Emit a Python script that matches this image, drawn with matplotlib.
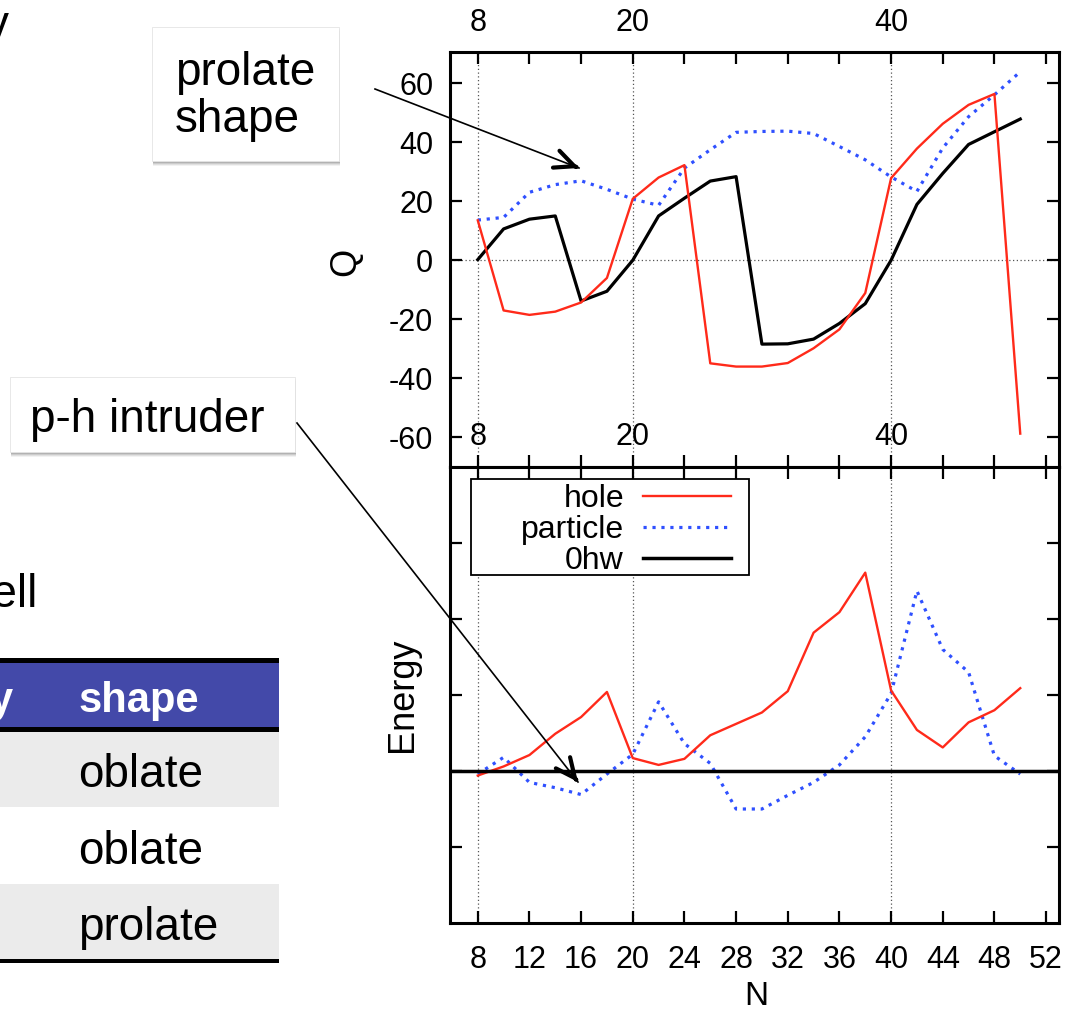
import numpy as np
import matplotlib.pyplot as plt
from matplotlib.patches import Rectangle, FancyArrowPatch
from matplotlib.lines import Line2D

plt.rcParams['font.family'] = ['Liberation Sans', 'DejaVu Sans']
plt.rcParams['axes.unicode_minus'] = False

W, H = 1078, 1018

# neutron number
N = np.arange(8, 51, 2)

# quadrupole moment Q
q_hole = [13.5, -17.0, -18.5, -17.4, -14.3, -6.0, 20.8, 28.0, 32.2, -34.9, -36.0,
          -36.0, -34.8, -29.8, -23.4, -11.1, 27.8, 37.8, 46.2, 52.6, 56.3, -58.7]
q_particle = [13.6, 14.5, 23.0, 25.6, 26.9, 24.0, 20.7, 18.6, 31.2, 37.4, 43.3,
              43.6, 43.7, 42.9, 38.5, 34.0, 28.2, 23.3, 38.0, 48.6, 56.0, 63.8]
q_0hw = [0.2, 10.6, 13.9, 15.0, -13.8, -10.5, 0.0, 15.0, 21.0, 26.8, 28.3,
         -28.4, -28.3, -26.7, -21.4, -14.7, 0.0, 18.9, 29.4, 39.2, 43.5, 47.8]

# energy relative to 0hw
e_hole = [-0.06, 0.06, 0.21, 0.49, 0.71, 1.04, 0.17, 0.08, 0.16, 0.47, 0.62,
          0.77, 1.05, 1.82, 2.09, 2.61, 1.06, 0.54, 0.31, 0.64, 0.80, 1.09]
e_particle = [-0.04, 0.18, -0.15, -0.22, -0.31, -0.04, 0.22, 0.91, 0.36, 0.10, -0.50,
              -0.50, -0.32, -0.15, 0.08, 0.45, 1.02, 2.37, 1.60, 1.30, 0.20, -0.04]
e_0hw = 0.0

series_labels = ['hole', 'particle', '0hw']
magic_N = [8, 20, 40]
table_shapes = ['oblate', 'oblate', 'prolate']

RED = '#ff2a1a'
BLUE = '#2f50ff'


def fx(x, y):
    # pixel (from top-left) -> figure fraction
    return (x / W, 1 - y / H)


fig = plt.figure(figsize=(W / 100, H / 100), dpi=100)
fig.patch.set_facecolor('white')

ax1 = fig.add_axes([450 / W, 1 - 467 / H, 609 / W, 415 / H])
ax2 = fig.add_axes([450 / W, 1 - 923 / H, 609 / W, 456 / H])

for ax in (ax1, ax2):
    for s in ax.spines.values():
        s.set_linewidth(2.2)
    ax.tick_params(direction='in', length=8.5, width=1.6, top=True, right=True,
                   labelsize=22)
    ax.set_xlim(5.85, 53)
    ax.set_xticks(np.arange(8, 53, 4))
    for g in magic_N:
        ax.axvline(g, color='#555555', lw=0.9, ls=(0, (1, 2)), zorder=0)

# --- top panel: Q ---
ax1.axhline(0, color='#555555', lw=0.9, ls=(0, (1, 2)), zorder=0)
ax1.plot(N, q_hole, color=RED, lw=1.7, zorder=3)
ax1.plot(N, q_particle, color=BLUE, lw=2.3, ls=(0, (1, 1.8)), zorder=2)
ax1.plot(N, q_0hw, color='black', lw=2.3, zorder=2)
ax1.set_ylim(-70, 70.5)
ax1.set_yticks(np.arange(-60, 61, 20))
ax1.tick_params(axis='y', pad=12)
ax1.tick_params(axis='x', labeltop=True, labelbottom=False, pad=10)
ax1.set_xticklabels([str(t) if t in magic_N else '' for t in range(8, 53, 4)])
for g in magic_N:
    ax1.text(g, -60, str(g), ha='center', va='center', fontsize=22)
ax1.set_ylabel('Q', fontsize=26)
ax1.yaxis.set_label_coords(-0.143, 0.494)

# --- bottom panel: Energy ---
l_hole, = ax2.plot(N, e_hole, color=RED, lw=1.7, zorder=3)
l_part, = ax2.plot(N, e_particle, color=BLUE, lw=2.3, ls=(0, (1, 1.8)), zorder=2)
l_0hw = ax2.axhline(e_0hw, color='black', lw=2.5, zorder=3)
ax2.set_ylim(-2, 4)
ax2.set_yticks([-1, 0, 1, 2, 3])
ax2.tick_params(axis='y', labelleft=False)
ax2.tick_params(axis='x', pad=16)
ax2.set_ylabel('Energy', fontsize=26)
ax2.yaxis.set_label_coords(-0.049, 0.5)
ax2.set_xlabel('N', fontsize=24)
ax2.xaxis.set_label_coords(0.503, -0.128)

frame = Rectangle(fx(471, 575), 278 / W, 96 / H, transform=fig.transFigure,
                  facecolor='white', edgecolor='black', lw=1.3, zorder=4)
ax2.add_patch(frame)
leg = ax2.legend([l_hole, l_part, l_0hw], series_labels, markerfirst=False,
                 frameon=False, loc='upper right', bbox_to_anchor=fx(731, 484),
                 bbox_transform=fig.transFigure, fontsize=23, handlelength=2.75,
                 handletextpad=0.6, labelspacing=0.03, borderpad=0,
                 borderaxespad=0)
leg.set_zorder(5)

# --- slide elements: table ---
rects = [
    (0, 658, 279, 5, 'black'),
    (0, 663, 279, 64, '#4349a9'),
    (0, 727, 279, 5, 'black'),
    (0, 732, 279, 75, '#ebebeb'),
    (0, 884, 279, 75, '#ebebeb'),
    (0, 959, 279, 4, 'black'),
]
for x, y, w, h, c in rects:
    fig.add_artist(Rectangle(fx(x, y + h), w / W, h / H, transform=fig.transFigure,
                             facecolor=c, edgecolor='none', zorder=1))
fig.text(*fx(78, 712), 'shape', fontsize=30, fontweight='bold', color='white',
         va='baseline', ha='left')
fig.text(*fx(13, 712), 'y', fontsize=30, fontweight='bold', color='white',
         va='baseline', ha='right')
for i, s in enumerate(table_shapes):
    fig.text(*fx(78, 787 + 76.5 * i), s, fontsize=33, va='baseline', ha='left')
fig.text(*fx(38, 607), 'shell', fontsize=33, va='baseline', ha='right')
fig.text(*fx(9, 38), 'y', fontsize=33, va='baseline', ha='right')


# --- callouts ---
def callout(x0, y0, x1, y1):
    for k, a in [(5, 0.05), (4, 0.07), (3, 0.09), (2, 0.12)]:
        fig.add_artist(Rectangle(fx(x0 + 1, y1 + k), (x1 - x0) / W, (y1 - y0) / H,
                                 transform=fig.transFigure, facecolor='black',
                                 edgecolor='none', alpha=a, zorder=2))
    fig.add_artist(Rectangle(fx(x0, y1), (x1 - x0) / W, (y1 - y0) / H,
                             transform=fig.transFigure, facecolor='white',
                             edgecolor='#e4e4e4', lw=0.6, zorder=3))


callout(152, 27, 339, 161)
fig.text(*fx(175, 85), 'prolate', fontsize=33, va='baseline', ha='left', zorder=4)
fig.text(*fx(175, 132), 'shape', fontsize=33, va='baseline', ha='left', zorder=4)
callout(10, 377, 295, 452)
fig.text(*fx(30, 432), 'p-h intruder', fontsize=33, va='baseline', ha='left', zorder=4)


def arrow(p0, p1):
    p0, p1 = np.array(p0, float), np.array(p1, float)
    d = (p1 - p0) / np.hypot(*(p1 - p0))
    fig.add_artist(Line2D([fx(*p0)[0], fx(*p1)[0]], [fx(*p0)[1], fx(*p1)[1]],
                          transform=fig.transFigure, color='black', lw=1.2,
                          zorder=6))
    fig.add_artist(FancyArrowPatch(fx(*(p1 - 3 * d)), fx(*p1),
                                   transform=fig.transFigure,
                                   arrowstyle='->,head_length=14,head_width=6.5',
                                   color='black', lw=3, zorder=6,
                                   shrinkA=0, shrinkB=0))


arrow((375, 89), (579, 168))
arrow((297, 423), (578, 782))

fig.savefig('out.png', dpi=100)
